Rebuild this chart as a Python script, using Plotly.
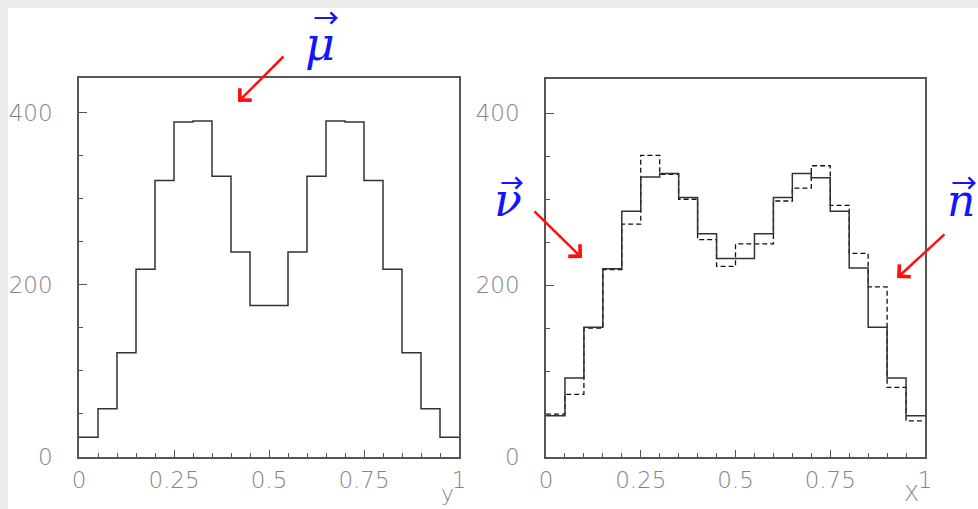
import plotly.graph_objects as go

# Figure size in pixels (margins are zero, so paper coords map straight to pixels)
W, H = 978, 509

# Histogram bin edges shared by both panels
bin_edges = [0.00, 0.05, 0.10, 0.15, 0.20, 0.25, 0.30, 0.35, 0.40, 0.45, 0.50,
             0.55, 0.60, 0.65, 0.70, 0.75, 0.80, 0.85, 0.90, 0.95, 1.00]

# Left panel: distribution in y (mu)
counts_mu = [23, 56, 121, 218, 321, 389, 390, 326, 238, 176,
             176, 238, 326, 390, 389, 321, 218, 121, 56, 23]

# Right panel: distribution in x, solid (nu) and dashed (n)
counts_nu = [48, 92, 151, 219, 286, 326, 330, 302, 260, 231,
             231, 260, 302, 330, 325, 286, 220, 151, 92, 48]
counts_n = [50, 73, 150, 218, 271, 351, 329, 300, 253, 222,
            248, 248, 298, 313, 339, 293, 237, 198, 81, 42]

x_tick_vals = [0, 0.25, 0.5, 0.75, 1]
x_tick_text = ["0", "0.25", "0.5", "0.75", "1"]
y_tick_vals = [0, 200, 400]
y_tick_text = ["0", "200", "400"]

FRAME = "#555555"
LABEL = "#858585"
BLUE = "#1414ff"
RED = "#ff1010"
TICK_FONT = dict(family="DejaVu Sans", size=23, color=LABEL, weight=200)
TITLE_FONT = dict(family="DejaVu Sans", size=22, color=LABEL, weight=200)


def px(x):
    return x / W


def py(y):
    return 1 - y / H


def step(counts):
    # repeat the last bin height so the final bin is closed at the right edge
    return list(counts) + [counts[-1]]


fig = go.Figure()

fig.add_trace(go.Scatter(x=bin_edges, y=step(counts_mu), mode="lines",
                         line=dict(color="#333333", width=1.5, shape="hv"),
                         xaxis="x", yaxis="y", showlegend=False))
fig.add_trace(go.Scatter(x=bin_edges, y=step(counts_n), mode="lines",
                         line=dict(color="#111111", width=1.3, shape="hv", dash="5px,3px"),
                         xaxis="x2", yaxis="y2", showlegend=False))
fig.add_trace(go.Scatter(x=bin_edges, y=step(counts_nu), mode="lines",
                         line=dict(color="#333333", width=1.5, shape="hv"),
                         xaxis="x2", yaxis="y2", showlegend=False))


def xaxis(domain, anchor):
    return dict(domain=domain, anchor=anchor, range=[0, 1], automargin=False,
                tickmode="array", tickvals=x_tick_vals, ticktext=x_tick_text,
                ticks="inside", ticklen=7, tickwidth=1, tickcolor=FRAME,
                minor=dict(tickmode="linear", tick0=0, dtick=0.05, ticks="inside",
                           ticklen=4, tickwidth=1, tickcolor=FRAME),
                showline=True, linecolor=FRAME, linewidth=1.5, mirror=True,
                showgrid=False, zeroline=False, tickfont=TICK_FONT,
                ticklabelstandoff=2)


def yaxis(domain, anchor):
    return dict(domain=domain, anchor=anchor, range=[0, 440], automargin=False,
                tickmode="array", tickvals=y_tick_vals, ticktext=y_tick_text,
                ticks="inside", ticklen=8, tickwidth=1, tickcolor=FRAME,
                minor=dict(tickmode="linear", tick0=0, dtick=50, ticks="inside",
                           ticklen=4, tickwidth=1, tickcolor=FRAME),
                showline=True, linecolor=FRAME, linewidth=1.5, mirror=True,
                showgrid=False, zeroline=False, tickfont=TICK_FONT,
                ticklabelstandoff=20)


annotations = []

# axis titles at the lower right of each panel
for text, cx in (("y", 447), ("X", 911)):
    annotations.append(dict(xref="paper", yref="paper", x=px(cx), y=py(508),
                            text=text, showarrow=False, xanchor="center",
                            yanchor="bottom", font=TITLE_FONT))

# red pointer arrows: (tail, head) in pixels
arrows = [((285, 55), (238, 102)),
          ((533, 210), (582, 258)),
          ((946, 233), (897, 278))]
for (tx, ty), (hx, hy) in arrows:
    annotations.append(dict(xref="paper", yref="paper", x=px(hx), y=py(hy),
                            ax=tx - hx, ay=ty - hy, text="", showarrow=True,
                            arrowhead=4, arrowsize=1.3, arrowwidth=2.5,
                            arrowcolor=RED))

# blue symbols: letter centre, size, then the vector arrow over it (x0, x1, y)
symbols = [("μ", 320, 44, 46, 313, 338, 18),
           ("ν", 508, 200, 46, 500, 523, 183),
           ("n", 961, 200, 44, 951, 976, 183)]
for letter, lx, ly, size, vx0, vx1, vy in symbols:
    annotations.append(dict(xref="paper", yref="paper", x=px(lx), y=py(ly),
                            text="<i>" + letter + "</i>", showarrow=False,
                            xanchor="center", yanchor="middle",
                            font=dict(family="DejaVu Serif", size=size, color=BLUE)))
    annotations.append(dict(xref="paper", yref="paper", x=px(vx1), y=py(vy),
                            ax=vx0 - vx1, ay=0, text="", showarrow=True,
                            arrowhead=4, arrowsize=1.0, arrowwidth=2.2,
                            arrowcolor=BLUE))

shapes = [dict(type="rect", xref="paper", yref="paper", x0=px(8), x1=1.0,
               y0=0.0, y1=py(8), fillcolor="white", line=dict(width=0),
               layer="below")]

fig.update_layout(
    template="none",
    width=W, height=H,
    margin=dict(l=0, r=0, t=0, b=0, pad=0),
    paper_bgcolor="#ebebeb",
    plot_bgcolor="white",
    xaxis=xaxis([px(79), px(459)], "y"),
    yaxis=yaxis([py(457), py(78)], "x"),
    xaxis2=xaxis([px(546), px(925)], "y2"),
    yaxis2=yaxis([py(457), py(79)], "x2"),
    annotations=annotations,
    shapes=shapes,
)

fig.write_html("out.html")
